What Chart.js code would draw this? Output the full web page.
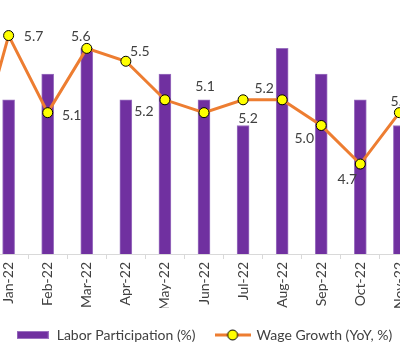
<!DOCTYPE html>
<html>
<head>
<meta charset="utf-8">
<script src="https://cdn.jsdelivr.net/npm/chart.js@4"></script>
<style>
  html, body { margin: 0; padding: 0; background: #fff; overflow: hidden; }
  body { width: 400px; height: 360px; position: relative; }
  /* the picture is a crop of a wider chart, so the canvas runs past the window */
  #wrap { position: absolute; left: -56px; top: -9px; width: 520px; height: 361px; }
</style>
</head>
<body>
<div id="wrap"><canvas id="chart"></canvas></div>
<script>
// Months shown (Dec-21 and Dec-22 sit just outside the visible crop)
const months = ['Dec-21', 'Jan-22', 'Feb-22', 'Mar-22', 'Apr-22', 'May-22', 'Jun-22',
                'Jul-22', 'Aug-22', 'Sep-22', 'Oct-22', 'Nov-22', 'Dec-22'];

// Labor participation (%), left axis 0..10
const laborParticipation = [null, 6, 7, 8, 6, 7, 6, 5, 8, 7, 6, 5, null];

// Wage growth (YoY, %), right axis 4..6
const wageGrowth = [4.6, 5.7, 5.1, 5.6, 5.5, 5.2, 5.1, 5.2, 5.2, 5.0, 4.7, 5.1, null];

// where each wage label sits relative to its point [dx, dy]
const labelOffsets = [[0, -14], [25, 1], [24, 3], [-6, -12], [14, -10], [-21, 12], [1, -26],
                      [5, 19], [-18, -11], [-17, 13], [-13, 15], [1, -11], [0, 0]];

const purple = '#7030A0';
const orange = '#ED7D31';
const yellow = '#FFFF00';

Chart.defaults.font.family = 'Lato, "Open Sans", sans-serif';
Chart.defaults.color = '#404040';

// small pictures for the legend markers
function legendBar() {
    const c = document.createElement('canvas');
    c.width = 32; c.height = 8;
    const g = c.getContext('2d');
    g.fillStyle = '#9B72C0';
    g.fillRect(0, 0, 32, 8);
    g.fillStyle = purple;
    g.fillRect(1, 1, 30, 6);
    return c;
}
function legendLine() {
    const c = document.createElement('canvas');
    c.width = 36; c.height = 12;
    const g = c.getContext('2d');
    g.strokeStyle = orange;
    g.lineWidth = 3;
    g.beginPath(); g.moveTo(0, 6); g.lineTo(36, 6); g.stroke();
    g.fillStyle = yellow;
    g.strokeStyle = '#000';
    g.lineWidth = 1;
    g.beginPath(); g.arc(18, 6, 5, 0, Math.PI * 2); g.fill(); g.stroke();
    return c;
}

// draws the numbers next to the wage points
const wageLabels = {
    id: 'wageLabels',
    afterDatasetsDraw(chart) {
        const meta = chart.getDatasetMeta(1);
        const ctx = chart.ctx;
        ctx.save();
        ctx.font = '14px Lato, "Open Sans", sans-serif';
        ctx.fillStyle = '#404040';
        ctx.textAlign = 'center';
        ctx.textBaseline = 'middle';
        meta.data.forEach(function(pt, i) {
            const v = wageGrowth[i];
            if (v === null) return;
            const off = labelOffsets[i];
            ctx.fillText(v.toFixed(1), pt.x + off[0], pt.y + off[1]);
        });
        ctx.restore();
    }
};

const barMarker = legendBar();
const lineMarker = legendLine();

new Chart(document.getElementById('chart'), {
    type: 'bar',
    data: {
        labels: months,
        datasets: [
            {
                type: 'bar',
                label: 'Labor Participation (%)',
                data: laborParticipation,
                backgroundColor: purple,
                borderColor: '#9B72C0',
                borderWidth: 1,
                barThickness: 12,
                yAxisID: 'y',
                order: 2
            },
            {
                type: 'line',
                label: 'Wage Growth (YoY, %)',
                data: wageGrowth,
                borderColor: orange,
                borderWidth: 3,
                pointRadius: 5,
                pointBackgroundColor: yellow,
                pointBorderColor: '#000',
                pointBorderWidth: 1,
                tension: 0,
                clip: false,
                yAxisID: 'y2',
                order: 1
            }
        ]
    },
    options: {
        responsive: true,
        maintainAspectRatio: false,
        animation: false,
        layout: { padding: 0 },
        plugins: {
            legend: {
                position: 'bottom',
                labels: {
                    usePointStyle: true,
                    pointStyleWidth: 34,
                    font: { size: 14 },
                    color: '#404040',
                    padding: 20,
                    generateLabels(chart) {
                        return chart.data.datasets.map(function(ds, i) {
                            return {
                                text: ds.label,
                                pointStyle: i === 0 ? barMarker : lineMarker,
                                datasetIndex: i,
                                hidden: false,
                                lineWidth: 0,
                                fontColor: '#404040'
                            };
                        });
                    }
                }
            },
            tooltip: { enabled: false }
        },
        scales: {
            x: {
                grid: {
                    display: true,
                    drawOnChartArea: false,
                    offset: true,
                    tickLength: 5,
                    color: '#D9D9D9'
                },
                border: { color: '#D9D9D9', width: 1 },
                ticks: {
                    autoSkip: false,
                    minRotation: 90,
                    maxRotation: 90,
                    font: { size: 14 },
                    color: '#404040'
                },
                afterFit(scale) { scale.height = 54; }
            },
            y: { display: false, min: 0, max: 10 },
            y2: { display: false, min: 4, max: 6, position: 'right' }
        }
    },
    plugins: [wageLabels]
});
</script>
</body>
</html>
